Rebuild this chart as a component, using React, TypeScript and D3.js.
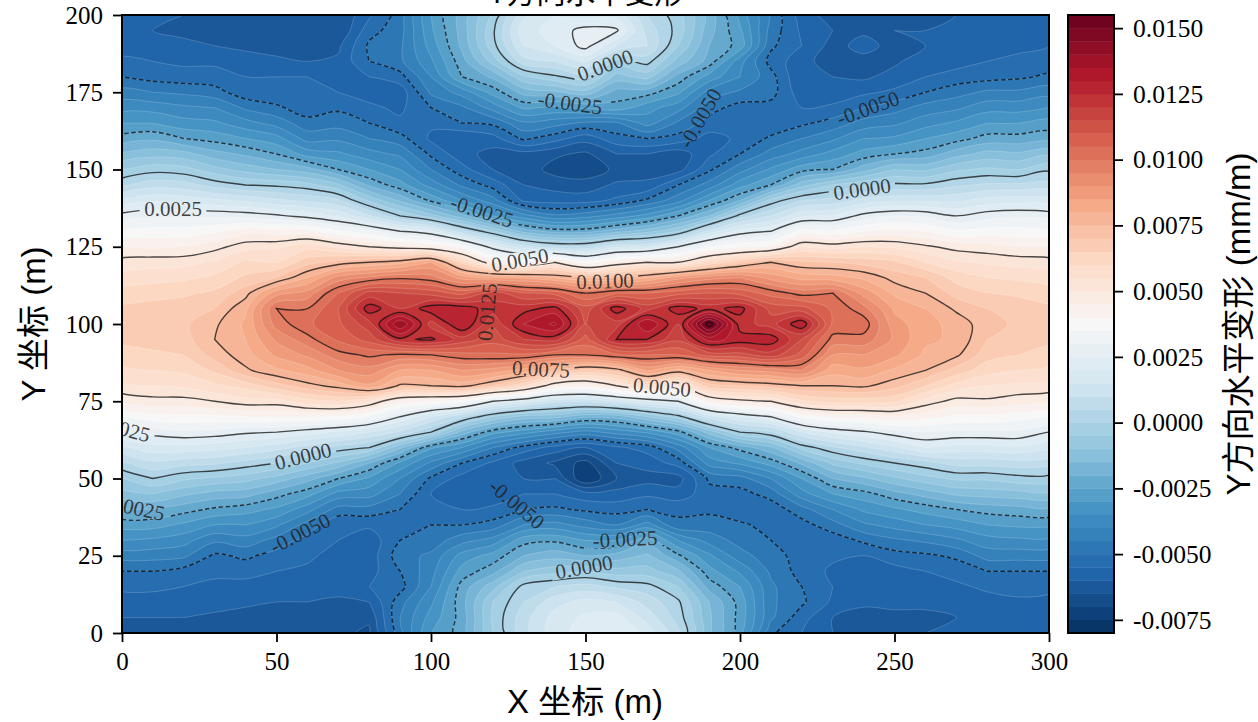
import { useEffect, useRef } from 'react';
import * as d3 from 'd3';

// grid positions in metres
const xs = d3.range(0, 301, 10);
const ys = d3.range(0, 201, 5);

// units of 1e-4 mm/m, one list per x, y going 0 -> 200
const zByX = [
  [-61,-60,-57,-54,-50,-43,-35,-28,-20,-12, -5,4,14,25,35,46,54,59,63,66, 67,66,62,57,52,45,36,27,16,4, -5,-14,-23,-30,-37,-43,-50,-54,-57,-58, -58],
  [-61,-60,-57,-54,-50,-43,-36,-28,-20,-10, 0,9,18,27,38,48,55,60,64,67, 68,67,63,58,53,44,37,29,19,8, -2,-12,-21,-30,-37,-45,-52,-55,-58,-60, -60],
  [-62,-60,-58,-55,-52,-44,-38,-31,-23,-14, -4,7,18,29,39,48,56,61,65,68, 69,68,64,59,53,45,37,29,18,7, -3,-13,-25,-33,-39,-46,-53,-56,-59,-61, -60],
  [-62,-61,-58,-56,-54,-51,-44,-35,-26,-17, -6,6,17,28,39,50,59,66,72,75, 74,70,66,61,56,48,39,29,16,3, -8,-18,-27,-34,-40,-48,-53,-56,-60,-62, -61],
  [-63,-62,-59,-57,-53,-49,-42,-35,-28,-18, -8,3,15,26,40,53,62,74,78,80, 81,79,73,66,61,53,43,28,14,0, -12,-21,-30,-38,-46,-53,-55,-58,-61,-63, -62],
  [-64,-62,-60,-57,-55,-52,-47,-39,-31,-23, -12,0,12,25,40,53,68,79,86,91, 97,100,88,70,60,54,42,26,11,-1, -15,-25,-33,-42,-49,-54,-55,-59,-62,-63, -63],
  [-63,-62,-60,-58,-56,-54,-52,-47,-38,-28, -18,-5,8,22,40,58,73,83,91,98, 104,100,92,80,68,58,42,23,9,-3, -18,-32,-42,-48,-53,-55,-55,-60,-62,-65, -65],
  [-64,-64,-61,-58,-59,-57,-55,-54,-47,-37, -25,-11,3,19,39,60,77,90,98,106, 109,110,105,92,72,54,36,19,6,-9, -25,-34,-41,-47,-51,-55,-57,-59,-61,-65, -65],
  [-66,-64,-60,-55,-57,-58,-58,-54,-47,-38, -31,-20,0,15,35,55,84,93,101,112, 118,128,117,96,75,50,32,11,-6,-21, -30,-38,-45,-50,-54,-57,-55,-50,-49,-52, -56],
  [-47,-45,-47,-52,-50,-47,-50,-53,-50,-45, -40,-31,-14,9,25,43,74,85,99,124, 140,120,115,99,78,47,25,0,-16,-28, -35,-41,-48,-54,-56,-58,-52,-46,-46,-47, -48],
  [-30,-33,-36,-40,-42,-44,-48,-50,-53,-55, -51,-41,-29,0,15,40,75,85,100,126, 118,128,113,97,85,44,21,-8,-26,-37, -45,-51,-56,-54,-50,-44,-40,-36,-33,-31, -30],
  [-23,-23,-22,-23,-28,-33,-42,-50,-55,-58, -57,-50,-35,-17,6,37,77,90,103,118, 130,128,108,88,63,38,7,-18,-35,-46, -53,-58,-60,-50,-46,-38,-25,-22,-19,-18, -18],
  [-5,-4,-5,-12,-22,-28,-38,-48,-54,-58, -60,-56,-45,-28,-5,25,70,88,104,112, 116,122,118,85,45,22,-4,-30,-43,-52, -60,-62,-57,-49,-38,-28,-19,-8,-2,-1, -4],
  [8,8,5,2,-10,-20,-27,-40,-50,-55, -60,-62,-52,-33,-12,19,61,83,104,120, 130,123,110,84,40,12,-17,-38,-56,-60, -62,-62,-49,-41,-29,-18,-6,8,15,18, 14],
  [18,17,13,5,-7,-17,-26,-38,-49,-55, -60,-66,-57,-38,-13,12,45,75,100,122, 136,127,108,80,50,6,-22,-44,-57,-62, -67,-64,-53,-43,-31,-16,-1,10,20,22, 20],
  [22,21,17,7,-5,-20,-30,-42,-51,-58, -75,-72,-60,-42,-19,11,42,68,100,108, 115,112,100,75,37,6,-22,-42,-57,-63, -68,-66,-58,-46,-29,-12,3,16,27,27, 18],
  [25,22,15,4,-8,-18,-30,-45,-52,-58, -65,-60,-56,-38,-18,15,50,72,104,125, 118,128,105,75,45,14,-17,-38,-54,-59, -64,-60,-52,-46,-27,-22,-12,-2,15,26, 18],
  [18,13,8,2,-8,-14,-22,-38,-50,-56, -62,-58,-53,-34,-10,20,58,86,105,125, 135,118,105,80,50,15,-12,-33,-49,-59, -62,-60,-50,-38,-33,-23,-8,2,10,8, 5],
  [6,3,1,-5,-14,-24,-35,-49,-51,-58, -62,-53,-43,-27,-2,25,50,78,105,116, 120,128,108,88,50,25,-5,-25,-42,-50, -62,-63,-52,-46,-38,-29,-22,-12,-5,-2, -3],
  [-14,-14,-15,-22,-28,-34,-42,-48,-51,-52, -49,-38,-30,-13,13,43,68,85,112,132, 154,123,110,93,60,35,12,-15,-30,-43, -51,-56,-57,-52,-48,-42,-32,-22,-20,-18, -17],
  [-28,-27,-27,-30,-36,-43,-47,-49,-54,-52, -47,-34,-23,0,20,48,70,90,113,128, 122,127,108,95,68,39,22,2,-20,-32, -42,-50,-54,-50,-52,-46,-40,-38,-27,-29, -32],
  [-49,-44,-44,-44,-46,-48,-50,-52,-53,-48, -40,-28,-16,4,25,50,72,92,118,128, 118,113,103,88,75,42,25,10,-3,-25, -34,-43,-49,-54,-52,-48,-48,-52,-49,-47, -46],
  [-55,-53,-49,-50,-52,-52,-54,-52,-47,-37, -30,-19,-3,15,37,59,75,95,108,115, 129,112,98,83,71,55,37,19,5,-12, -27,-38,-45,-51,-55,-58,-60,-58,-55,-56, -58],
  [-60,-60,-56,-55,-56,-54,-53,-47,-40,-30, -20,-9,4,21,41,62,75,82,90,98, 104,104,100,82,70,53,36,20,7,-5, -25,-33,-41,-48,-54,-58,-60,-63,-62,-60, -62],
  [-61,-62,-59,-57,-57,-55,-49,-41,-34,-27, -16,-4,9,24,42,62,76,84,90,98, 103,97,88,79,68,55,40,27,12,-1, -17,-28,-35,-43,-50,-56,-61,-62,-58,-61, -64],
  [-62,-61,-59,-58,-57,-52,-46,-38,-31,-22, -11,0,14,28,44,61,72,79,86,89, 87,84,79,73,66,54,42,30,14,1, -10,-25,-34,-41,-47,-54,-58,-61,-62,-60, -62],
  [-60,-61,-59,-57,-55,-51,-44,-35,-28,-18, -7,3,20,30,42,53,65,75,79,81, 82,80,75,70,60,51,40,29,14,1, -11,-23,-30,-37,-43,-50,-55,-57,-60,-60, -61],
  [-60,-60,-58,-56,-53,-49,-41,-33,-25,-14, -4,7,18,29,39,48,58,68,76,79, 78,74,68,63,56,48,36,25,14,4, -6,-17,-27,-34,-41,-47,-53,-57,-59,-60, -60],
  [-60,-59,-57,-54,-50,-43,-37,-30,-23,-13, -4,7,18,29,39,49,55,62,67,70, 72,70,65,60,54,47,37,28,17,6, -4,-13,-23,-30,-37,-44,-52,-55,-57,-58, -60],
  [-59,-59,-56,-53,-50,-43,-36,-29,-22,-12, -2,8,19,29,37,47,54,60,65,68, 69,68,64,59,53,45,37,29,18,6, -5,-14,-23,-30,-37,-44,-51,-54,-56,-56, -57],
  [-58,-58,-56,-54,-50,-43,-36,-29,-21,-11, -2,7,16,25,35,46,53,59,63,66, 67,66,62,58,52,45,36,28,17,7, -1,-11,-22,-28,-35,-42,-49,-53,-55,-55, -56],
];

const xTicks = [0, 50, 100, 150, 200, 250, 300];
const yTicks = [0, 25, 50, 75, 100, 125, 150, 175, 200];
const barTicks = [-0.0075, -0.005, -0.0025, 0, 0.0025, 0.005, 0.0075, 0.01, 0.0125, 0.015];
const lineLevels = [-75, -50, -25, 0, 25, 50, 75, 100, 125, 150];
const fillLevels = d3.range(-80, 156, 5);
const rdbuStops = ['#053061', '#2166ac', '#4393c3', '#92c5de', '#d1e5f0', '#f7f7f7', '#fddbc7', '#f4a582', '#d6604d', '#b2182b', '#67001f'];

// inline contour labels: level, px centre and angle
const lineLabels: [number, number, number, number][] = [
  [25, 173, 209, 0],
  [-25, 482, 211, 18],
  [0, 605, 65, -20],
  [-25, 570, 103, 8],
  [-50, 700, 118, -60],
  [-50, 868, 108, -20],
  [0, 862, 189, -8],
  [50, 520, 260, -10],
  [100, 605, 281, -2],
  [125, 487, 312, -85],
  [75, 541, 369, 3],
  [50, 662, 387, 5],
  [25, 122, 428, 15],
  [0, 303, 456, -14],
  [-25, 133, 507, 12],
  [-50, 300, 533, -27],
  [-50, 517, 504, 40],
  [-25, 625, 539, -3],
  [0, 584, 567, -10],
];

const W = 1258;
const H = 722;
const plot = { left: 122, right: 1049, top: 15, bottom: 633 };
const bar = { left: 1068, right: 1114 };
const serif = '"Liberation Serif", serif';
const sans = '"Liberation Sans", "Noto Sans CJK SC", sans-serif';

const App = () => {
  const ref = useRef<SVGSVGElement | null>(null);

  useEffect(() => {
    const svg = d3.select(ref.current);
    svg.selectAll('*').remove();

    const x = d3.scaleLinear().domain([0, 300]).range([plot.left, plot.right]);
    const y = d3.scaleLinear().domain([0, 200]).range([plot.bottom, plot.top]);
    const dx = xs[1] - xs[0];
    const dy = ys[1] - ys[0];

    const nx = xs.length;
    const ny = ys.length;
    const values = new Array(nx * ny);
    zByX.forEach((col, i) => col.forEach((v, j) => { values[j * nx + i] = v; }));

    const ramp = d3.piecewise(d3.interpolateRgb, rdbuStops);
    const lo = fillLevels[0];
    const hi = fillLevels[fillLevels.length - 1];
    const bandColor = (a: number, b: number) => ramp(((a + b) / 2 - lo) / (hi - lo));

    const line = d3.line().curve(d3.curveCatmullRomClosed.alpha(0.5));
    // d3 puts grid node i at i + 0.5
    const toPx = (p: number[]): [number, number] => [x((p[0] - 0.5) * dx), y((p[1] - 0.5) * dy)];
    const contourPath = (g: any) => g.coordinates
      .map((poly: number[][][]) => poly.map(ring => line(ring.slice(0, -1).map(toPx))).join(''))
      .join('');
    const contours = d3.contours().size([nx, ny]);

    const defs = svg.append('defs');
    defs.append('clipPath').attr('id', 'plot-clip').append('rect')
      .attr('x', plot.left).attr('y', plot.top)
      .attr('width', plot.right - plot.left).attr('height', plot.bottom - plot.top);

    const fmt = (v: number) => (v / 10000).toFixed(4);

    // gaps in the black lines under the labels
    const mask = defs.append('mask').attr('id', 'label-gaps').attr('maskUnits', 'userSpaceOnUse')
      .attr('x', 0).attr('y', 0).attr('width', W).attr('height', H);
    mask.append('rect').attr('width', W).attr('height', H).attr('fill', 'white');
    lineLabels.forEach(([lev, cx, cy, ang]) => {
      const w = fmt(lev).length * 10.8 + 2;
      mask.append('rect').attr('x', -w / 2).attr('y', -8).attr('width', w).attr('height', 16)
        .attr('fill', 'black').attr('transform', `translate(${cx},${cy}) rotate(${ang})`);
    });

    const field = svg.append('g').attr('clip-path', 'url(#plot-clip)');
    field.append('rect').attr('x', plot.left).attr('y', plot.top)
      .attr('width', plot.right - plot.left).attr('height', plot.bottom - plot.top)
      .attr('fill', bandColor(fillLevels[0], fillLevels[1]));

    fillLevels.slice(0, -1).forEach((lev, i) => {
      field.append('path')
        .attr('d', contourPath(contours.contour(values, lev)))
        .attr('fill', bandColor(lev, fillLevels[i + 1]));
    });
    fillLevels.forEach(lev => {
      field.append('path')
        .attr('d', contourPath(contours.contour(values, lev)))
        .attr('fill', 'none').attr('stroke', 'white')
        .attr('stroke-width', 0.6).attr('stroke-opacity', 0.3);
    });

    const blackLines = field.append('g').attr('mask', 'url(#label-gaps)');
    lineLevels.forEach(lev => {
      blackLines.append('path')
        .attr('d', contourPath(contours.contour(values, lev)))
        .attr('fill', 'none').attr('stroke', 'black')
        .attr('stroke-width', 1.4).attr('stroke-opacity', 0.7)
        .attr('stroke-dasharray', lev < 0 ? '4.5,2.5' : null);
    });

    lineLabels.forEach(([lev, cx, cy, ang]) => {
      field.append('text')
        .attr('transform', `translate(${cx},${cy}) rotate(${ang})`)
        .attr('text-anchor', 'middle').attr('dy', '0.35em')
        .attr('font-family', serif).attr('font-size', 21)
        .attr('fill', '#222').attr('fill-opacity', 0.85)
        .text(fmt(lev));
    });

    // axes
    const xAxis = svg.append('g').attr('transform', `translate(0,${plot.bottom})`)
      .call(d3.axisBottom(x).tickValues(xTicks).tickFormat(d3.format('d') as any).tickSize(9).tickPadding(10));
    const yAxis = svg.append('g').attr('transform', `translate(${plot.left},0)`)
      .call(d3.axisLeft(y).tickValues(yTicks).tickFormat(d3.format('d') as any).tickSize(9).tickPadding(10));
    [xAxis, yAxis].forEach(a => {
      a.attr('font-family', serif).attr('font-size', 25);
      a.selectAll('.domain').remove();
      a.selectAll('line').attr('stroke', 'black').attr('stroke-width', 1.8);
      a.selectAll('text').attr('fill', 'black');
    });
    svg.append('rect').attr('x', plot.left).attr('y', plot.top)
      .attr('width', plot.right - plot.left).attr('height', plot.bottom - plot.top)
      .attr('fill', 'none').attr('stroke', 'black').attr('stroke-width', 2);

    // colour bar
    const barScale = d3.scaleLinear().domain([lo / 10000, hi / 10000]).range([plot.bottom, plot.top]);
    const barG = svg.append('g');
    fillLevels.slice(0, -1).forEach((lev, i) => {
      const next = fillLevels[i + 1];
      barG.append('rect').attr('x', bar.left).attr('width', bar.right - bar.left)
        .attr('y', barScale(next / 10000))
        .attr('height', barScale(lev / 10000) - barScale(next / 10000) + 0.4)
        .attr('fill', bandColor(lev, next));
    });
    const barAxis = svg.append('g').attr('transform', `translate(${bar.right},0)`)
      .call(d3.axisRight(barScale).tickValues(barTicks).tickFormat((d: any) => d.toFixed(4)).tickSize(9).tickPadding(10));
    barAxis.attr('font-family', serif).attr('font-size', 25.5);
    barAxis.selectAll('.domain').remove();
    barAxis.selectAll('line').attr('stroke', 'black').attr('stroke-width', 1.8);
    barAxis.selectAll('text').attr('fill', 'black');
    svg.append('rect').attr('x', bar.left).attr('y', plot.top)
      .attr('width', bar.right - bar.left).attr('height', plot.bottom - plot.top)
      .attr('fill', 'none').attr('stroke', 'black').attr('stroke-width', 2);

    // titles
    const label = (txt: string, tx: number, ty: number, rot: number, size: number) =>
      svg.append('text').attr('transform', `translate(${tx},${ty}) rotate(${rot})`)
        .attr('text-anchor', 'middle').attr('font-family', sans).attr('font-size', size)
        .attr('fill', 'black').text(txt);
    label('Y方向水平变形', 585.5, 3, 0, 29.5);
    label('X 坐标 (m)', 585, 713, 0, 33);
    label('Y 坐标 (m)', 45, 324, -90, 33);
    label('Y方向水平变形 (mm/m)', 1250, 324, -90, 33);
  }, []);

  return <svg ref={ref} width={W} height={H} style={{ position: 'absolute', left: 0, top: 0, display: 'block' }} />;
};

export default App;
